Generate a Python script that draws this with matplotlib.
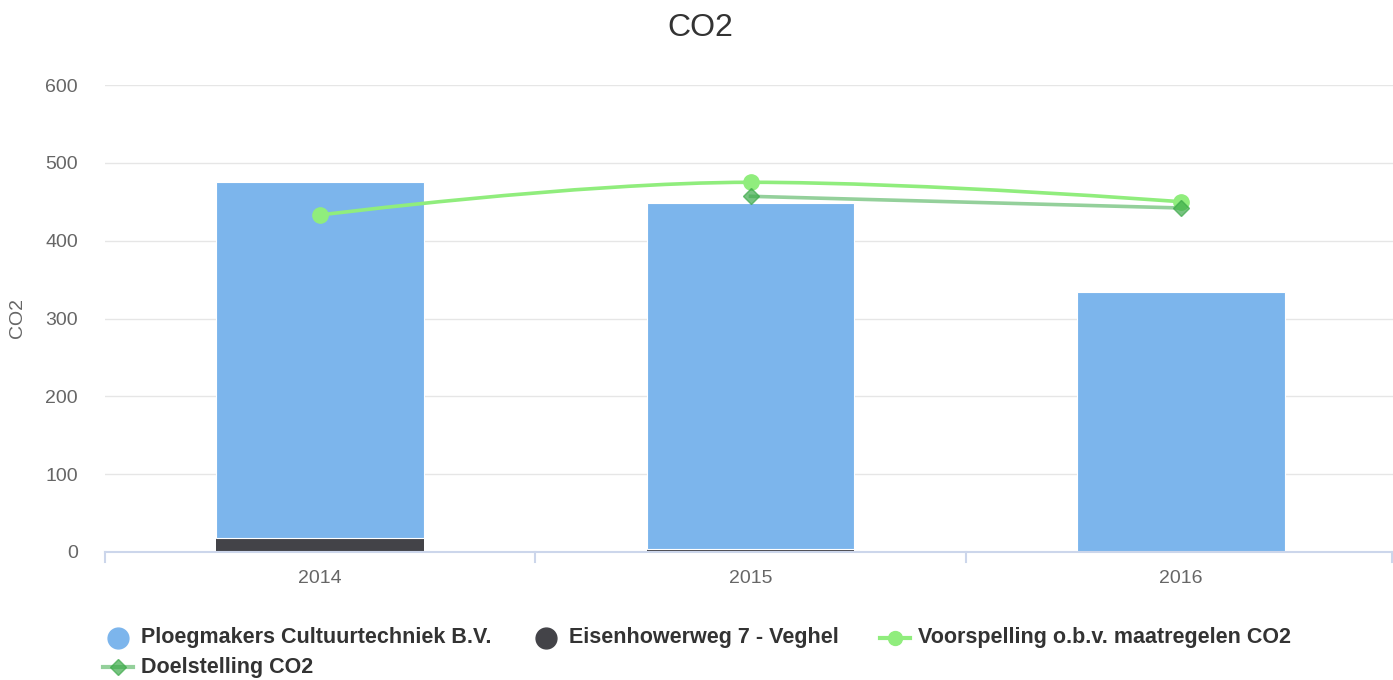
import matplotlib
matplotlib.use("Agg")
import matplotlib.pyplot as plt
import numpy as np
from matplotlib.path import Path
from matplotlib.patches import PathPatch
from matplotlib.lines import Line2D

plt.rcParams['font.family'] = ['Liberation Sans', 'DejaVu Sans']

years = ["2014", "2015", "2016"]
ploegmakers = [457, 444, 334]
eisenhower = [18, 4, 0]
voorspelling = [433, 475, 450]
doel_years = ["2015", "2016"]
doelstelling = [457, 442]

W, H = 1393, 680
fig = plt.figure(figsize=(W / 100, H / 100), dpi=100)
ax = fig.add_axes([105 / W, 1 - 552 / H, (1396 - 105) / W, (552 - 85) / H])

x = np.arange(len(years))
bw = 0.482
ax.bar(x, eisenhower, bw, color='#434348', edgecolor='none', zorder=2)
ax.bar(x, ploegmakers, bw, bottom=eisenhower, color='#7cb5ec', edgecolor='white', linewidth=0.8, zorder=2)

# Highcharts-like spline for Voorspelling
def spline_path(xs, ys, smoothing=1.5):
    denom = smoothing + 1
    n = len(xs)
    conts = []
    for i in range(n):
        if 0 < i < n - 1:
            lcx = (smoothing * xs[i] + xs[i - 1]) / denom
            lcy = (smoothing * ys[i] + ys[i - 1]) / denom
            rcx = (smoothing * xs[i] + xs[i + 1]) / denom
            rcy = (smoothing * ys[i] + ys[i + 1]) / denom
            corr = (rcy - lcy) * (rcx - xs[i]) / (rcx - lcx) + ys[i] - rcy
            lcy += corr
            rcy += corr
            py, ly, ny = ys[i], ys[i - 1], ys[i + 1]
            if lcy > ly and lcy > py:
                lcy = max(ly, py); rcy = 2 * py - lcy
            elif lcy < ly and lcy < py:
                lcy = min(ly, py); rcy = 2 * py - lcy
            if rcy > ny and rcy > py:
                rcy = max(ny, py); lcy = 2 * py - rcy
            elif rcy < ny and rcy < py:
                rcy = min(ny, py); lcy = 2 * py - rcy
            conts.append(((lcx, lcy), (rcx, rcy)))
        else:
            conts.append(((xs[i], ys[i]), (xs[i], ys[i])))
    verts = [(xs[0], ys[0])]
    codes = [Path.MOVETO]
    for i in range(1, n):
        verts += [conts[i - 1][1], conts[i][0], (xs[i], ys[i])]
        codes += [Path.CURVE4] * 3
    return Path(verts, codes)

ax.add_patch(PathPatch(spline_path(list(x.astype(float)), voorspelling), facecolor='none',
                       edgecolor='#90ed7d', linewidth=2.6, zorder=4, capstyle='round'))
ax.plot(x, voorspelling, linestyle='none', marker='o', markersize=11, color='#90ed7d', zorder=5, clip_on=False)

xd = [years.index(y) for y in doel_years]
ax.plot(xd, doelstelling, color='#3daa4a', alpha=0.55, linewidth=2.6, zorder=3)
ax.plot(xd, doelstelling, linestyle='none', marker='D', markersize=8.5, color='#3daa4a', alpha=0.7, zorder=6)

ax.set_xlim(-0.5, 2.5)
ax.set_ylim(0, 600)
ax.set_yticks(np.arange(0, 601, 100))
ax.yaxis.grid(True, color='#e6e6e6', linewidth=1)
ax.set_axisbelow(True)
for s in ['top', 'right', 'left']:
    ax.spines[s].set_visible(False)
ax.spines['bottom'].set_color('#ccd6eb')
ax.spines['bottom'].set_linewidth(1.5)
ax.tick_params(axis='y', length=0, labelsize=14, labelcolor='#666666', pad=19.5)
ax.set_xticks(x)
ax.set_xticklabels(years)
ax.tick_params(axis='x', length=0, labelsize=14, labelcolor='#666666', pad=13)
ax.set_ylabel('CO2', fontsize=14, color='#666666', labelpad=14)

# tick marks at category boundaries (approx 10px)
for b in [-0.5, 0.5, 1.5, 2.5]:
    px = ax.transData.transform((b, 0))[0]
    px = min(px, W - 1)
    fig.add_artist(Line2D([px / W, px / W], [1 - 552 / H, 1 - 562 / H], color='#ccd6eb', linewidth=1.5))

fig.text(700 / W, 1 - 28 / H, 'CO2', ha='center', va='center', fontsize=23, color='#333333')

# Legend
def legend_item(xm, y, label, kind, color, xtxt):
    yf = 1 - y / H
    if kind == 'circle':
        fig.add_artist(Line2D([xm / W], [yf], marker='o', markersize=15, color=color, linestyle='none'))
    else:
        c, lc, mk, la, ma = color
        fig.add_artist(Line2D([(xm - 15) / W, (xm + 15) / W], [yf, yf], color=lc, linewidth=3, alpha=la))
        fig.add_artist(Line2D([xm / W], [yf], marker=mk, markersize=8 if mk == 'D' else 10, color=c,
                              linestyle='none', alpha=ma))
    fig.text(xtxt / W, yf, label, ha='left', va='center', fontsize=15.5, fontweight='bold', color='#333333')

legend_item(118, 638, 'Ploegmakers Cultuurtechniek B.V.', 'circle', '#7cb5ec', 141)
legend_item(546, 638, 'Eisenhowerweg 7 - Veghel', 'circle', '#434348', 569)
legend_item(895, 638, 'Voorspelling o.b.v. maatregelen CO2', 'line', ('#90ed7d', '#90ed7d', 'o', 1.0, 1.0), 918)
legend_item(118, 667, 'Doelstelling CO2', 'line', ('#3daa4a', '#3daa4a', 'D', 0.55, 0.7), 141)

fig.savefig('out.png', dpi=100)
